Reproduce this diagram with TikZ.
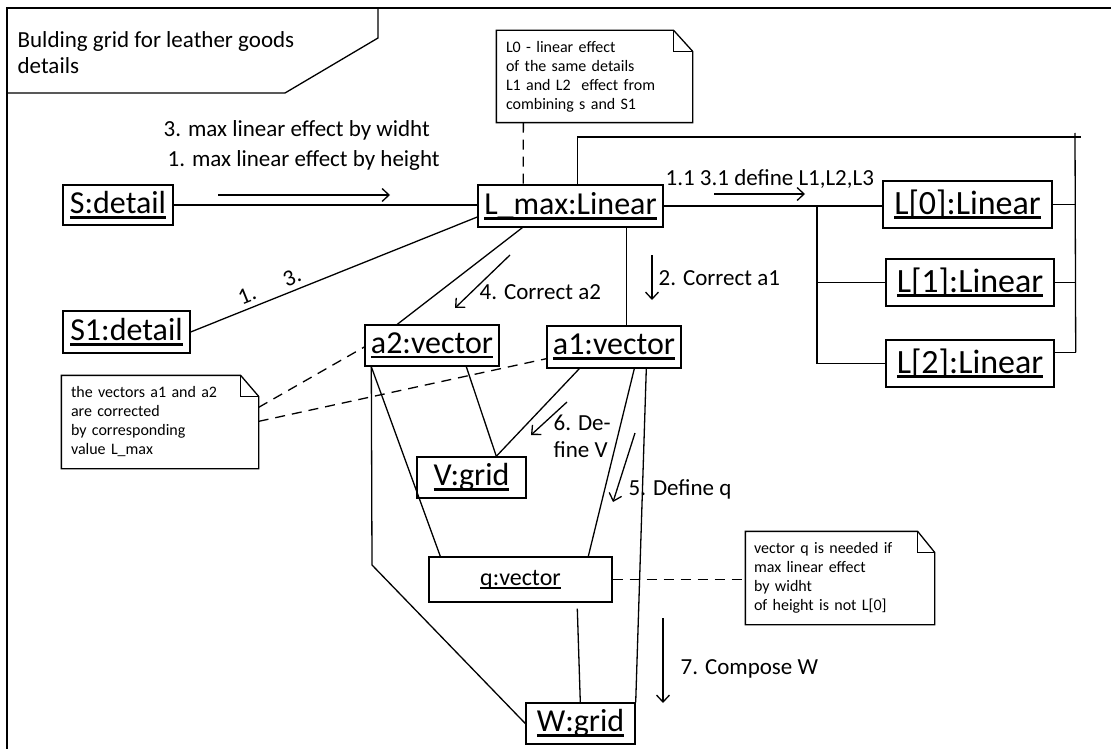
\documentclass[tikz,border=0pt]{standalone}
\usepackage{fontspec}
\setmainfont{Carlito}
\usetikzlibrary{arrows.meta,calc}

% underlined object names (UML instance style)
\newcommand\objname[1]{\sbox0{#1}\rlap{\rule[-5pt]{\wd0}{2.8pt}}\usebox0}
\newcommand\smallobj[1]{\sbox0{#1}\rlap{\rule[-3.5pt]{\wd0}{1.4pt}}\usebox0}
% note with folded corner
\newcommand\noteshape[3]{%
  \draw (#1.north west) -- ([xshift=-#2pt]#1.north east) -- ([yshift=-#3pt]#1.north east)
        -- (#1.south east) -- (#1.south west) -- cycle;
  \draw ([xshift=-#2pt]#1.north east) |- ([yshift=-#3pt]#1.north east);}

\begin{document}
\begin{tikzpicture}[x=1pt,y=-1pt,line width=1.3pt,
  obj/.style={draw,line width=1.4pt,inner sep=0pt,font=\fontsize{32}{38}\selectfont},
  lobj/.style={obj,font=\fontsize{34}{40}\selectfont},
  smallo/.style={draw,line width=1.4pt,inner sep=0pt,font=\fontsize{24}{28}\selectfont},
  note/.style={inner xsep=9pt,inner ysep=0pt,align=left,font=\fontsize{16}{19}\selectfont},
  lbl/.style={inner sep=0pt,anchor=base west,font=\fontsize{23}{27}\selectfont},
  msg/.style={-{Straight Barb[length=7pt,width=13pt]}},
  link/.style={dash pattern=on 10pt off 7pt}]
\useasboundingbox (0,0) rectangle (1111,749);

% frame and its title
\draw[line width=2.2pt] (7,749) -- (7,8) -- (1111,8);
\draw (7,93) -- (285,93) -- (378,38) -- (378,8);
\node[inner sep=0pt,anchor=north west,align=left,font=\fontsize{23}{26}\selectfont] (title) at (17,31)
  {Bulding grid for leather goods\\details};

% objects
\node[obj,minimum width=110pt,minimum height=40pt] (S)    at (118,205)   {\objname{S:detail}};
\node[obj,minimum width=185pt,minimum height=42pt] (Lmax) at (570.5,206) {\objname{L\_max:Linear}};
\node[obj,minimum width=127pt,minimum height=42pt] (S1)   at (126.5,332) {\objname{S1:detail}};
\node[obj,minimum width=134pt,minimum height=41pt] (a2)   at (432,345.5) {\objname{a2:vector}};
\node[obj,minimum width=134pt,minimum height=42pt] (a1)   at (614,347)   {\objname{a1:vector}};
\node[obj,minimum width=109pt,minimum height=41pt] (V)    at (471.5,477.5) {\objname{V:grid}};
\node[smallo,minimum width=183pt,minimum height=45pt] (q) at (520.5,579.5) {\smallobj{q:vector}};
\node[obj,minimum width=109pt,minimum height=41pt] (W)    at (580.5,723.5) {\objname{W:grid}};
\node[lobj,minimum width=169pt,minimum height=47pt] (L0)  at (967.5,204.5) {\objname{L[0]:Linear}};
\node[lobj,minimum width=168pt,minimum height=47pt] (L1)  at (970,282.5) {\objname{L[1]:Linear}};
\node[lobj,minimum width=168pt,minimum height=47pt] (L2)  at (970,363.5) {\objname{L[2]:Linear}};

% notes
\node[note,text width=177pt,minimum height=91pt] (n1) at (594.5,76.5)
  {L0 - linear effect\\of the same details\\L1 and L2\ \ effect from\\combining s and S1};
\noteshape{n1}{19}{21}
\node[note,text width=178pt,minimum height=92pt] (n2) at (160,422)
  {the vectors a1 and a2\\are corrected\\by corresponding\\value L\_max};
\noteshape{n2}{18}{21}
\node[note,inner xsep=8pt,text width=172pt,minimum height=92pt] (n3) at (840,578)
  {vector q is needed if\\max linear effect\\by widht\\of height is not L[0]};
\noteshape{n3}{17}{21}

% links between objects
\draw (S.east) -- (S.east -| Lmax.west);
\draw (S1.east) -- ($(Lmax.west)+(0,11)$);
\draw ($(Lmax.south west)+(45,0)$) -- ($(a2.north west)+(33,0)$);
\draw ($(Lmax.south west)+(149,0)$) -- ($(a1.north west)+(80,0)$);
\draw (Lmax.east) -- (Lmax.east -| L0.west);
\coordinate (br) at (817,206);
\draw (br) |- (L2.west);
\draw (br |- L1.west) -- (L1.west);
\coordinate (bus) at (1075,137);
\draw ($(Lmax.north west)+(100,0)$) |- ($(bus)+(6,0)$);
\draw ($(bus)+(0,-4)$) -- ($(L2.north east)+(21,13)$);
\draw (L0.east) -- (L0.east -| bus);
\draw (L1.east) -- (L1.east -| bus);
\draw ($(L2.north east)+(0,13)$) -- ($(L2.north east)+(21,13)$);
\draw ($(a2.south west)+(102,0)$) -- ($(V.north west)+(80,0)$);
\draw ($(a1.south west)+(33,0)$) -- ($(V.north west)+(80,0)$);
\draw ($(a1.south west)+(88,0)$) -- ($(q.north west)+(160,0)$);
\draw ($(a1.south west)+(100,0)$) -- (W.north east);
\draw ($(a2.south west)+(7,0)$) -- ($(q.north west)+(12,0)$);
\draw ($(a2.south west)+(7,0)$) -- (372,565) -- (W.west);
\draw ($(q.south west)+(149,6)$) -- ($(W.north west)+(55,0)$);

% note anchors
\draw[link] (q.east) -- (q.east -| n3.west);
\draw[link] ($(n1.south west)+(27,0)$) -- ($(Lmax.north west)+(46,0)$);
\draw[link] ($(n2.north east)+(0,32)$) -- ($(a2.west)+(0,1.5)$);
\draw[link] ($(n2.north east)+(0,46)$) -- ($(a1.south west)+(0,-10)$);

% messages
\coordinate (m1s) at (218,195); \coordinate (m1e) at (390,195);
\draw[msg] (m1s) -- (m1e);
\node[lbl] (t1a) at (163,137) {3. max linear effect by widht};
\node[lbl] (t1b) at (167,166) {1. max linear effect by height};
\node[inner sep=0pt,rotate=22,font=\fontsize{23}{27}\selectfont] (t1c) at (247,295) {1.};
\node[inner sep=0pt,rotate=22,font=\fontsize{23}{27}\selectfont] (t1d) at (292,277) {3.};

\coordinate (m2s) at (714,194); \coordinate (m2e) at (805,194);
\draw[msg] (m2s) -- (m2e);
\node[lbl] (t2) at (665,185) {1.1 3.1 define L1,L2,L3};

\coordinate (m3s) at (510,255); \coordinate (m3e) at (455,308);
\draw[msg] (m3s) -- (m3e);
\node[lbl] (t3) at (479,299) {4. Correct a2};

\coordinate (m4s) at (652,255); \coordinate (m4e) at (652,300);
\draw[msg] (m4s) -- (m4e);
\node[lbl] (t4) at (658,285) {2. Correct a1};

\coordinate (m5s) at (567,402); \coordinate (m5e) at (531,435);
\draw[msg] (m5s) -- (m5e);
\node[lbl] (t5) at (553,430) {6. De-};
\node[lbl] (t5b) at (553,457) {fine V};

\coordinate (m6s) at (635,433); \coordinate (m6e) at (613,502);
\draw[msg] (m6s) -- (m6e);
\node[lbl] (t6) at (628,495) {5. Define q};

\coordinate (m7s) at (663,618); \coordinate (m7e) at (663,703);
\draw[msg] (m7s) -- (m7e);
\node[lbl] (t7) at (680,674) {7. Compose W};
\end{tikzpicture}
\end{document}
